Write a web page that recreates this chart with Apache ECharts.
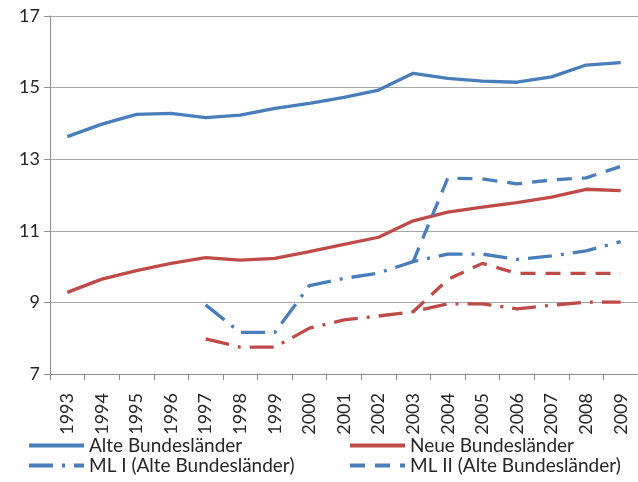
<!DOCTYPE html>
<html>
<head>
<meta charset="utf-8">
<script src="https://cdn.jsdelivr.net/npm/echarts@6/dist/echarts.min.js"></script>
<style>
  html, body { margin: 0; padding: 0; background: #fff; }
  #main { width: 638px; height: 482px; }
</style>
</head>
<body>
<div id="main"></div>
<script>
const years = ["1993", "1994", "1995", "1996", "1997", "1998", "1999", "2000", "2001",
  "2002", "2003", "2004", "2005", "2006", "2007", "2008", "2009"];

const alteBL = [13.63, 13.98, 14.25, 14.28, 14.16, 14.23, 14.42, 14.56, 14.73,
  14.93, 15.4, 15.26, 15.18, 15.15, 15.3, 15.63, 15.7];
const neueBL = [9.28, 9.65, 9.89, 10.09, 10.25, 10.18, 10.23, 10.42, 10.62,
  10.82, 11.28, 11.52, 11.66, 11.79, 11.94, 12.16, 12.12];
const ml1Alte = [null, null, null, null, 8.93, 8.16, 8.16, 9.47, 9.67,
  9.82, 10.14, 10.35, 10.35, 10.2, 10.3, 10.44, 10.7];
const ml2Alte = [null, null, null, null, null, null, null, null, null,
  null, 10.14, 12.47, 12.45, 12.31, 12.42, 12.48, 12.8];
const ml1Neue = [null, null, null, null, 7.98, 7.75, 7.75, 8.28, 8.51,
  8.62, 8.74, 8.96, 8.96, 8.82, 8.92, 9.01, 9.01];
const ml2Neue = [null, null, null, null, null, null, null, null, null,
  null, 8.74, 9.64, 10.09, 9.81, 9.81, 9.81, 9.81];

const blue = "#4A7EBB";
const red = "#BE4B48";
const font = "Lato";
const dashDot = [24, 9, 3, 9];
const dashed = [15, 10];

function line(name, data, color, type) {
  return {
    name: name,
    type: "line",
    data: data,
    symbol: "none",
    showSymbol: false,
    smooth: false,
    connectNulls: false,
    lineStyle: { color: color, width: 3.3, type: type },
    itemStyle: { color: color },
    emphasis: { disabled: true }
  };
}

const chart = echarts.init(document.getElementById("main"), null, { renderer: "canvas" });

const legendBase = {
  orient: "vertical",
  top: 436,
  height: 46,
  padding: 0,
  itemWidth: 55,
  itemHeight: 14,
  itemGap: 1,
  itemStyle: { opacity: 0 },
  lineStyle: { width: 4 },
  textStyle: { fontFamily: font, fontSize: 19, color: "#262626", lineHeight: 18 }
};

chart.setOption({
  animation: false,
  backgroundColor: "#fff",
  grid: { left: 50, right: 0, top: 16, bottom: 108, containLabel: false },
  legend: [
    Object.assign({}, legendBase, { left: 27, data: ["Alte Bundesländer", "ML I (Alte Bundesländer)"] }),
    Object.assign({}, legendBase, { left: 348, data: ["Neue Bundesländer", "ML II (Alte Bundesländer)"] })
  ],
  xAxis: {
    type: "category",
    data: years,
    boundaryGap: true,
    axisLine: { lineStyle: { color: "#8C8C8C", width: 1 } },
    axisTick: { show: true, length: 6, lineStyle: { color: "#8C8C8C" } },
    axisLabel: { rotate: 90, margin: 19, fontFamily: font, fontSize: 18, color: "#262626" },
    splitLine: { show: false }
  },
  yAxis: {
    type: "value",
    min: 7,
    max: 17,
    interval: 2,
    axisLine: { show: true, lineStyle: { color: "#8C8C8C", width: 1 } },
    axisTick: { show: true, length: 6, lineStyle: { color: "#8C8C8C" } },
    axisLabel: { margin: 10, fontFamily: font, fontSize: 18, color: "#262626" },
    splitLine: { lineStyle: { color: "#A6A6A6", width: 1 } }
  },
  series: [
    line("Alte Bundesländer", alteBL, blue, "solid"),
    line("Neue Bundesländer", neueBL, red, "solid"),
    line("ML I (Alte Bundesländer)", ml1Alte, blue, dashDot),
    line("ML II (Alte Bundesländer)", ml2Alte, blue, dashed),
    line("ML I (Neue Bundesländer)", ml1Neue, red, dashDot),
    line("ML II (Neue Bundesländer)", ml2Neue, red, dashed)
  ]
});
</script>
</body>
</html>
